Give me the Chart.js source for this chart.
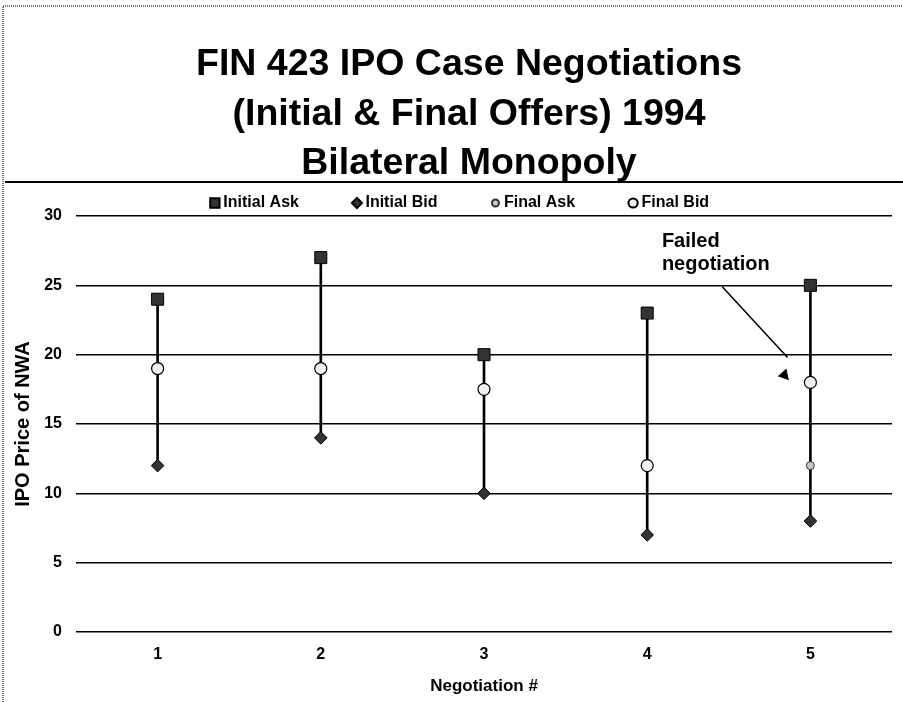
<!DOCTYPE html>
<html>
<head>
<meta charset="utf-8">
<title>FIN 423 IPO Case Negotiations</title>
<script src="https://cdn.jsdelivr.net/npm/chart.js@4.4.1/dist/chart.umd.min.js"></script>
<style>
  html, body { margin: 0; padding: 0; background: #fff; }
  #wrap { width: 903px; height: 702px; position: relative; }
</style>
</head>
<body>
<div id="wrap"><canvas id="ipo-chart"></canvas></div>
<script>
const FONT = '"Liberation Sans", Arial, Helvetica, sans-serif';

// chart data
const titleLines = ["FIN 423 IPO Case Negotiations", "(Initial & Final Offers) 1994", "Bilateral Monopoly"];
const negotiations = ["1", "2", "3", "4", "5"];
const initialAsk = [24, 27, 20, 23, 25];
const initialBid = [12, 14, 10, 7, 8];
const finalAsk = [19, 19, 17.5, 12, 12];
const finalBid = [19, 19, 17.5, 12, 18];
const yTicks = [0, 5, 10, 15, 20, 25, 30];
const noteLines = ["Failed", "negotiation"];

// title, legend, frame and the "failed negotiation" note
const decorPlugin = {
  id: "decor",
  afterDraw(chart) {
    const ctx = chart.ctx;
    const xs = chart.scales.x;
    const ys = chart.scales.y;
    ctx.save();

    // dotted slide frame
    ctx.strokeStyle = "#777";
    ctx.lineWidth = 2;
    ctx.setLineDash([1, 1]);
    ctx.beginPath();
    ctx.moveTo(3, 702);
    ctx.lineTo(3, 6);
    ctx.lineTo(903, 6);
    ctx.stroke();
    ctx.setLineDash([]);

    // title
    ctx.fillStyle = "#000";
    ctx.textAlign = "center";
    ctx.textBaseline = "alphabetic";
    ctx.font = "bold 37.5px " + FONT;
    titleLines.forEach((line, i) => ctx.fillText(line, 469, 75 + i * 49.5));

    // header rule
    ctx.strokeStyle = "#000";
    ctx.lineWidth = 2;
    ctx.beginPath();
    ctx.moveTo(5, 182);
    ctx.lineTo(903, 182);
    ctx.stroke();

    // legend
    ctx.font = "bold 16px " + FONT;
    ctx.textAlign = "left";
    ctx.textBaseline = "middle";
    const items = chart.data.datasets.filter(d => d.legendRadius);
    const widths = items.map(d => ctx.measureText(d.label).width);
    const total = widths.reduce((a, w) => a + w + 8.5 + 58, 0) - 58;
    let x = 462 - total / 2;
    items.forEach((d, i) => {
      ctx.fillStyle = d.pointBackgroundColor;
      ctx.strokeStyle = d.pointBorderColor;
      Chart.helpers.drawPoint(ctx, { pointStyle: d.pointStyle, radius: d.legendRadius, borderWidth: 1, rotation: 0 }, x, 203);
      ctx.fillStyle = "#000";
      ctx.fillText(d.label, x + 8.5, 203);
      x += 8.5 + widths[i] + 58;
    });

    // failed negotiation note
    ctx.font = "bold 20px " + FONT;
    ctx.textBaseline = "alphabetic";
    const tx = xs.getPixelForValue(3.09);
    ctx.fillText(noteLines[0], tx, ys.getPixelForValue(27.8));
    ctx.fillText(noteLines[1], tx, ys.getPixelForValue(26.1));
    ctx.lineWidth = 1.5;
    ctx.beginPath();
    ctx.moveTo(xs.getPixelForValue(3.46), ys.getPixelForValue(24.9));
    ctx.lineTo(xs.getPixelForValue(3.86), ys.getPixelForValue(19.8));
    ctx.stroke();
    ctx.beginPath();
    ctx.moveTo(xs.getPixelForValue(3.853), ys.getPixelForValue(19.0));
    ctx.lineTo(xs.getPixelForValue(3.80), ys.getPixelForValue(18.45));
    ctx.lineTo(xs.getPixelForValue(3.868), ys.getPixelForValue(18.15));
    ctx.closePath();
    ctx.fill();

    ctx.restore();
  }
};

const tickFont = { family: FONT, size: 16, weight: "bold" };

new Chart(document.getElementById("ipo-chart"), {
  type: "bar",
  data: {
    labels: negotiations,
    datasets: [
      {
        type: "line",
        label: "Initial Ask",
        data: initialAsk,
        showLine: false,
        pointStyle: "rect",
        pointRadius: 8.5,
        pointBackgroundColor: "#333333",
        pointBorderColor: "#000",
        pointBorderWidth: 1,
        legendRadius: 6.6,
        order: 0
      },
      {
        type: "line",
        label: "Initial Bid",
        data: initialBid,
        showLine: false,
        pointStyle: "rectRot",
        pointRadius: 6.3,
        pointBackgroundColor: "#333333",
        pointBorderColor: "#000",
        pointBorderWidth: 1,
        legendRadius: 5,
        order: 0
      },
      {
        type: "line",
        label: "Final Ask",
        data: finalAsk,
        showLine: false,
        pointStyle: "circle",
        pointRadius: 4,
        pointBackgroundColor: "#c8c8c8",
        pointBorderColor: "#333",
        pointBorderWidth: 1,
        legendRadius: 3.5,
        order: 2
      },
      {
        type: "line",
        label: "Final Bid",
        data: finalBid,
        showLine: false,
        pointStyle: "circle",
        pointRadius: 6,
        pointBackgroundColor: "#f0f0f0",
        pointBorderColor: "#000",
        pointBorderWidth: 1.2,
        legendRadius: 4.6,
        order: 1
      },
      {
        // high-low line from initial bid up to initial ask
        type: "bar",
        label: "range",
        data: initialBid.map((b, i) => [b, initialAsk[i]]),
        backgroundColor: "#000",
        barThickness: 2,
        order: 5
      }
    ]
  },
  options: {
    responsive: true,
    maintainAspectRatio: false,
    animation: false,
    events: [],
    layout: { padding: { top: 216, left: 2, right: 11, bottom: 5 } },
    plugins: {
      legend: { display: false },
      title: { display: false },
      tooltip: { enabled: false }
    },
    scales: {
      x: {
        grid: { display: false },
        border: { display: false },
        ticks: { color: "#000", font: tickFont, padding: 5 },
        title: {
          display: true,
          text: "Negotiation #",
          color: "#000",
          font: { family: FONT, size: 17, weight: "bold" },
          padding: { top: 12, bottom: 0 }
        },
        afterFit(scale) { scale.height = 65; }
      },
      y: {
        min: yTicks[0],
        max: yTicks[yTicks.length - 1],
        ticks: { stepSize: yTicks[1] - yTicks[0], color: "#000", font: tickFont, padding: 14 },
        grid: { color: "#000", lineWidth: 1.5, drawTicks: false },
        border: { display: false },
        title: {
          display: true,
          text: "IPO Price of NWA",
          color: "#000",
          font: { family: FONT, size: 20, weight: "bold" },
          padding: { top: 9, bottom: 9 }
        },
        afterFit(scale) { scale.width = 74; }
      }
    }
  },
  plugins: [decorPlugin]
});
</script>
</body>
</html>
